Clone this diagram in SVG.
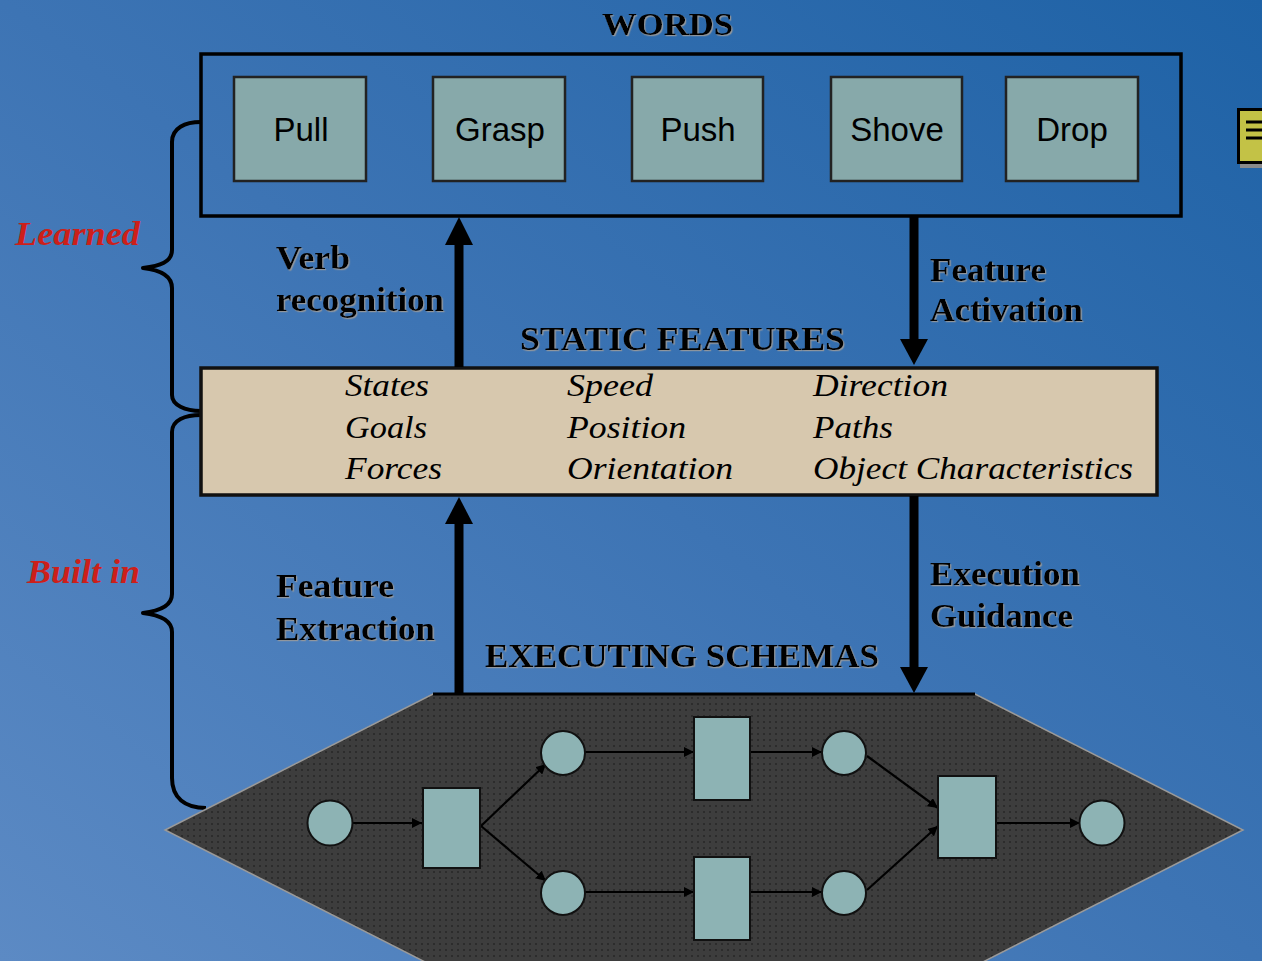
<svg xmlns="http://www.w3.org/2000/svg" width="1262" height="961" viewBox="0 0 1262 961">
  <defs>
    <linearGradient id="bg" x1="1" y1="0" x2="0" y2="1">
      <stop offset="0" stop-color="#1e62a6"/>
      <stop offset="0.5" stop-color="#3d74b4"/>
      <stop offset="1" stop-color="#5c8ac4"/>
    </linearGradient>
    <pattern id="dots" width="6" height="6" patternUnits="userSpaceOnUse">
      <rect width="6" height="6" fill="#3d3d3d"/>
      <rect x="1" y="1" width="2" height="2" fill="#2c2c2c"/>
    </pattern>
    <filter id="shade" x="-5%" y="-20%" width="110%" height="140%">
      <feDropShadow dx="1.2" dy="1.2" stdDeviation="0.3" flood-color="#9a9a9a" flood-opacity="0.9"/>
    </filter>
    <marker id="tip" viewBox="0 0 10 10" refX="10" refY="5" markerWidth="10" markerHeight="10" markerUnits="userSpaceOnUse" orient="auto">
      <path d="M0 0 L10 5 L0 10 Z" fill="#000"/>
    </marker>
    <style>
      .title { font-family: "Liberation Serif", serif; font-weight: bold; font-size: 32px; fill: #000; }
      .label { font-family: "Liberation Serif", serif; font-weight: bold; font-size: 33px; fill: #000; }
      .side { font-family: "Liberation Serif", serif; font-weight: bold; font-style: italic; font-size: 33px; fill: #cc1f1a; }
      .word { font-family: "Liberation Sans", sans-serif; font-size: 33px; fill: #000; text-anchor: middle; }
      .feat { font-family: "Liberation Serif", serif; font-style: italic; font-size: 32px; fill: #000; }
      .wbox { fill: #87a9aa; stroke: #222; stroke-width: 2.5; }
      .frame { fill: none; stroke: #000; stroke-width: 3.5; }
      .brace { fill: none; stroke: #000; stroke-width: 4; stroke-linejoin: round; }
      .shaft { stroke: #000; stroke-width: 9; }
      .head { fill: #000; }
      .node { fill: #8db3b4; stroke: #111; stroke-width: 2; }
      .edge { fill: none; stroke: #000; stroke-width: 2.2; marker-end: url(#tip); }
    </style>
  </defs>

  <!-- backdrop -->
  <rect width="1262" height="961" fill="url(#bg)"/>

  <!-- note icon at the right edge -->
  <g id="note">
    <rect x="1240" y="163" width="30" height="5" fill="#8a8a8a"/>
    <rect x="1238.5" y="109.5" width="30" height="53" fill="#c3c246" stroke="#000" stroke-width="3"/>
    <path d="M1246 122 H1262 M1246 130 H1262 M1246 138 H1262" stroke="#000" stroke-width="3"/>
  </g>

  <!-- WORDS layer -->
  <g id="words">
    <text class="title" x="602" y="35" textLength="131" lengthAdjust="spacingAndGlyphs" filter="url(#shade)">WORDS</text>
    <rect class="frame" x="201" y="54" width="980" height="162"/>
    <g id="w-pull"><rect class="wbox" x="234" y="77" width="132" height="104"/><text class="word" x="301" y="141">Pull</text></g>
    <g id="w-grasp"><rect class="wbox" x="433" y="77" width="132" height="104"/><text class="word" x="500" y="141">Grasp</text></g>
    <g id="w-push"><rect class="wbox" x="632" y="77" width="131" height="104"/><text class="word" x="698" y="141">Push</text></g>
    <g id="w-shove"><rect class="wbox" x="831" y="77" width="131" height="104"/><text class="word" x="897" y="141">Shove</text></g>
    <g id="w-drop"><rect class="wbox" x="1006" y="77" width="132" height="104"/><text class="word" x="1072" y="141">Drop</text></g>
  </g>

  <!-- side braces and their labels -->
  <g id="learned">
    <path class="brace" d="M201 122 C185 122 172 128 172 142 L172 250 C172 262 160 266 143 268 C160 270 172 276 172 288 L172 395 C172 405 185 411 201 411"/>
    <text class="side" x="15" y="245" textLength="125" lengthAdjust="spacingAndGlyphs">Learned</text>
  </g>
  <g id="builtin">
    <path class="brace" d="M201 415 C185 415 172 420 172 432 L172 594 C172 606 160 611 143 613 C160 615 172 620 172 632 L172 778 C172 798 185 808 206 808"/>
    <text class="side" x="27" y="583" textLength="113" lengthAdjust="spacingAndGlyphs">Built in</text>
  </g>

  <!-- STATIC FEATURES layer -->
  <g id="static">
    <text class="label" x="520" y="350" textLength="325" lengthAdjust="spacingAndGlyphs" filter="url(#shade)">STATIC FEATURES</text>
    <rect x="201" y="368" width="956" height="127" fill="#d7c8ae" stroke="#111" stroke-width="3.5"/>
    <text class="feat" x="345" y="396" textLength="84" lengthAdjust="spacingAndGlyphs">States</text>
    <text class="feat" x="345" y="438" textLength="82" lengthAdjust="spacingAndGlyphs">Goals</text>
    <text class="feat" x="345" y="479" textLength="97" lengthAdjust="spacingAndGlyphs">Forces</text>
    <text class="feat" x="567" y="396" textLength="86" lengthAdjust="spacingAndGlyphs">Speed</text>
    <text class="feat" x="567" y="438" textLength="119" lengthAdjust="spacingAndGlyphs">Position</text>
    <text class="feat" x="567" y="479" textLength="166" lengthAdjust="spacingAndGlyphs">Orientation</text>
    <text class="feat" x="813" y="396" textLength="135" lengthAdjust="spacingAndGlyphs">Direction</text>
    <text class="feat" x="813" y="438" textLength="80" lengthAdjust="spacingAndGlyphs">Paths</text>
    <text class="feat" x="813" y="479" textLength="320" lengthAdjust="spacingAndGlyphs">Object Characteristics</text>
  </g>

  <!-- EXECUTING SCHEMAS layer -->
  <g id="schemas">
    <text class="label" x="485" y="667" textLength="394" lengthAdjust="spacingAndGlyphs" filter="url(#shade)">EXECUTING SCHEMAS</text>
    <polygon points="433,694 975,694 1243,830 975,966 433,966 165,830" fill="url(#dots)" stroke="#9a9a9a" stroke-width="1.5"/>
    <path d="M433 694 H975" stroke="#000" stroke-width="3"/>
  </g>

  <!-- links between the layers -->
  <g id="links">
    <line class="shaft" x1="459" y1="242" x2="459" y2="367"/>
    <polygon class="head" points="459,217 445,245 473,245"/>
    <line class="shaft" x1="914" y1="216" x2="914" y2="342"/>
    <polygon class="head" points="900,339 928,339 914,365"/>
    <line class="shaft" x1="459" y1="521" x2="459" y2="694"/>
    <polygon class="head" points="459,497 445,524 473,524"/>
    <line class="shaft" x1="914" y1="496" x2="914" y2="670"/>
    <polygon class="head" points="900,667 928,667 914,693"/>
    <text class="label" x="276" y="269" textLength="74" lengthAdjust="spacingAndGlyphs" filter="url(#shade)">Verb</text>
    <text class="label" x="276" y="311" textLength="168" lengthAdjust="spacingAndGlyphs" filter="url(#shade)">recognition</text>
    <text class="label" x="930" y="281" textLength="116" lengthAdjust="spacingAndGlyphs" filter="url(#shade)">Feature</text>
    <text class="label" x="930" y="321" textLength="153" lengthAdjust="spacingAndGlyphs" filter="url(#shade)">Activation</text>
    <text class="label" x="276" y="597" textLength="118" lengthAdjust="spacingAndGlyphs" filter="url(#shade)">Feature</text>
    <text class="label" x="276" y="640" textLength="159" lengthAdjust="spacingAndGlyphs" filter="url(#shade)">Extraction</text>
    <text class="label" x="930" y="585" textLength="150" lengthAdjust="spacingAndGlyphs" filter="url(#shade)">Execution</text>
    <text class="label" x="930" y="627" textLength="143" lengthAdjust="spacingAndGlyphs" filter="url(#shade)">Guidance</text>
  </g>

  <!-- schema network connectors -->
  <g id="edges">
    <line class="edge" x1="353" y1="823" x2="422" y2="823"/>
    <line class="edge" x1="481" y1="826" x2="546" y2="764"/>
    <line class="edge" x1="481" y1="826" x2="546" y2="881"/>
    <line class="edge" x1="585" y1="752" x2="694" y2="752"/>
    <line class="edge" x1="585" y1="892" x2="694" y2="892"/>
    <line class="edge" x1="750" y1="752" x2="822" y2="752"/>
    <line class="edge" x1="750" y1="892" x2="822" y2="892"/>
    <line class="edge" x1="867" y1="756" x2="938" y2="808"/>
    <line class="edge" x1="867" y1="890" x2="938" y2="826"/>
    <line class="edge" x1="996" y1="823" x2="1080" y2="823"/>
  </g>

  <!-- schema network nodes -->
  <g id="p-start"><circle class="node" cx="330" cy="823" r="22.5"/></g>
  <g id="t-split"><rect class="node" x="423" y="788" width="57" height="80"/></g>
  <g id="p-upper-a"><circle class="node" cx="563" cy="753" r="22"/></g>
  <g id="p-lower-a"><circle class="node" cx="563" cy="893" r="22"/></g>
  <g id="t-upper"><rect class="node" x="694" y="717" width="56" height="83"/></g>
  <g id="t-lower"><rect class="node" x="694" y="857" width="56" height="83"/></g>
  <g id="p-upper-b"><circle class="node" cx="844" cy="753" r="22"/></g>
  <g id="p-lower-b"><circle class="node" cx="844" cy="893" r="22"/></g>
  <g id="t-join"><rect class="node" x="938" y="776" width="58" height="82"/></g>
  <g id="p-end"><circle class="node" cx="1102" cy="823" r="22.5"/></g>
</svg>
